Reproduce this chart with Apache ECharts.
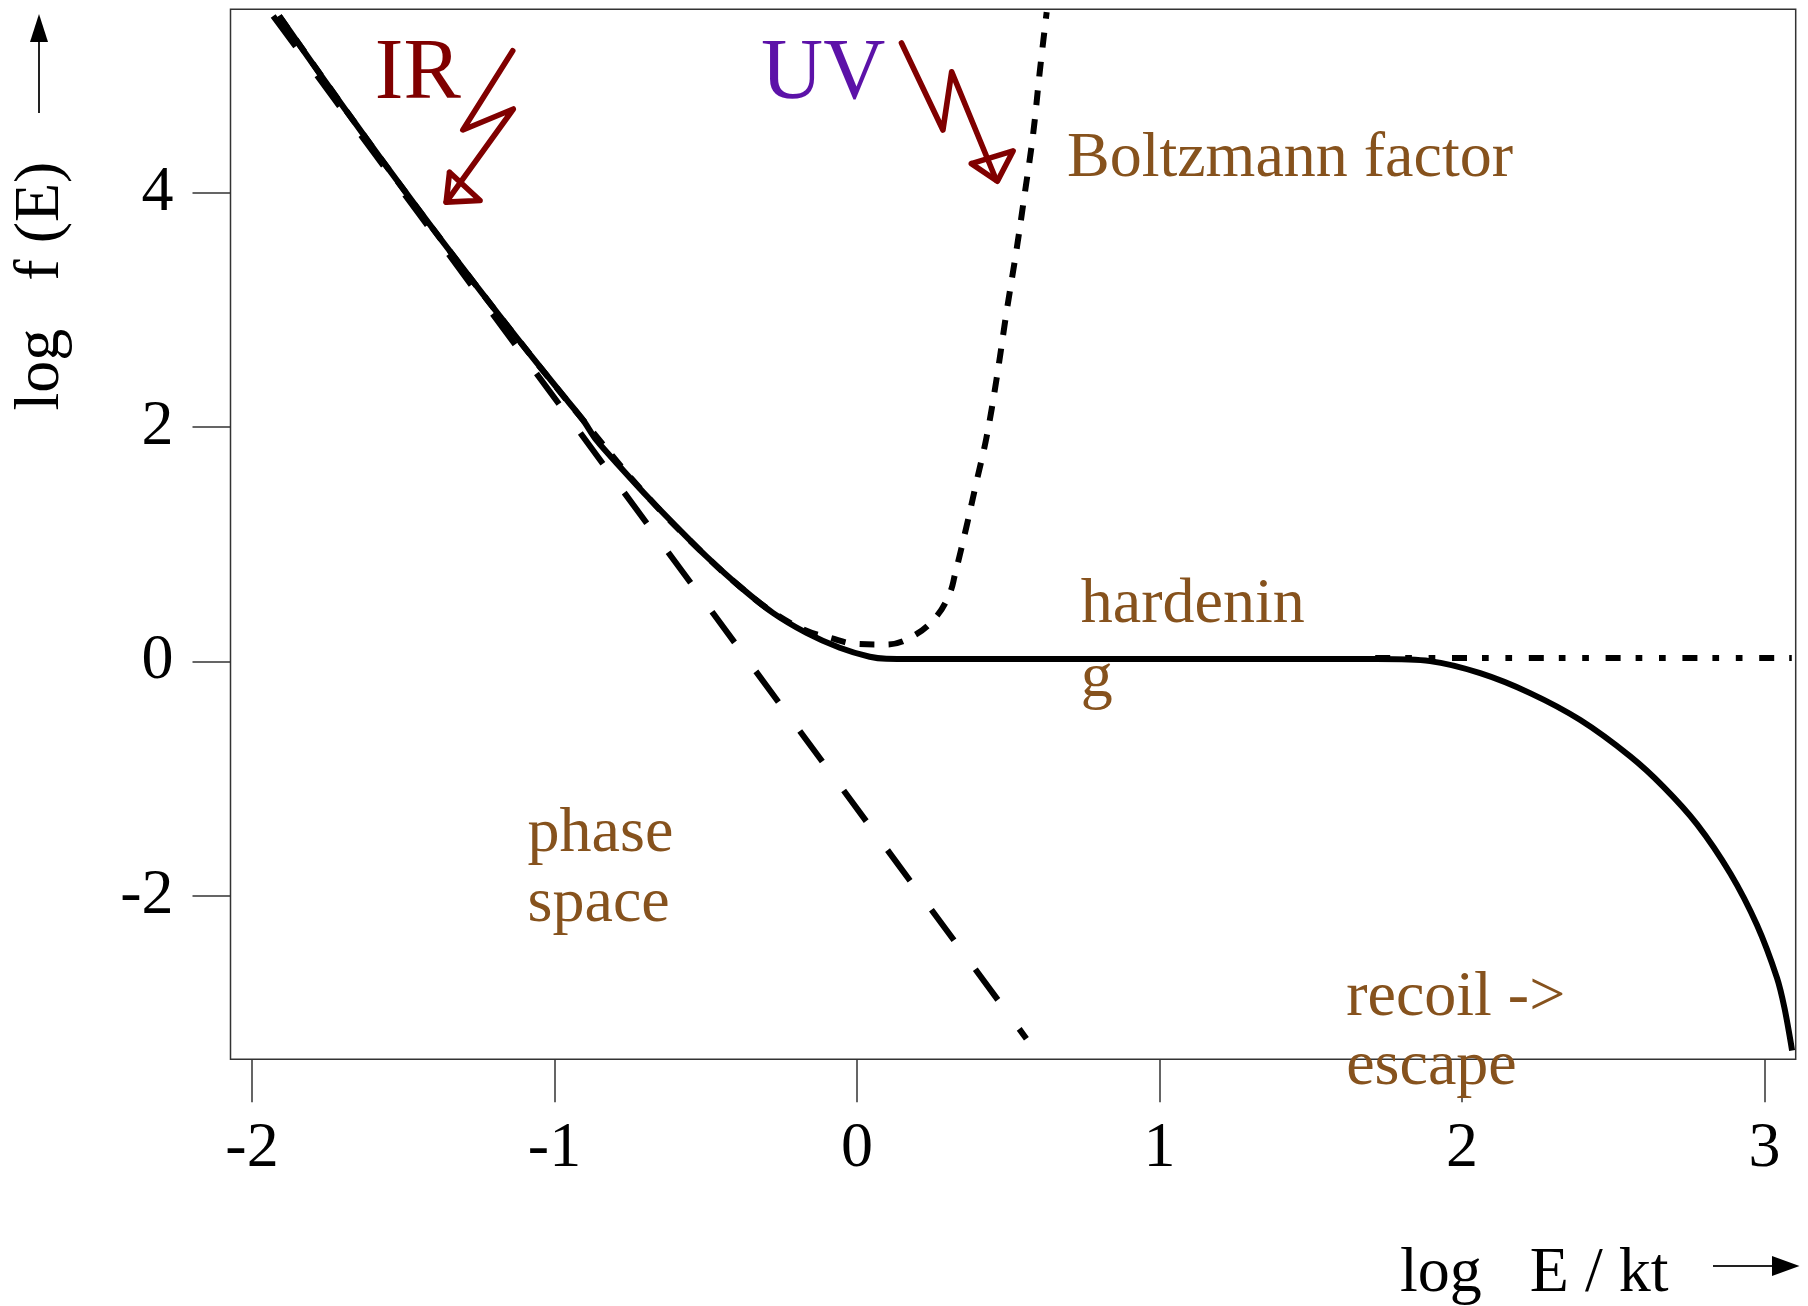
<!DOCTYPE html>
<html><head><meta charset="utf-8">
<script src="https://cdn.jsdelivr.net/npm/echarts@6/dist/echarts.min.js"></script>
<style>html,body{margin:0;padding:0;background:#fff}#c{width:1808px;height:1306px}</style>
</head><body><div id="c"></div>
<script>
// ---------- DATA ----------
const xTicks = [-2, -1, 0, 1, 2, 3];
const xTickLabels = ['-2', '-1', '0', '1', '2', '3'];
const yTicks = [-2, 0, 2, 4];
const yTickLabels = ['-2', '0', '2', '4'];

// total f(E): solid curve
const totalX = [-1.910, -1.844, -1.766, -1.694, -1.618, -1.535, -1.458, -1.370, -1.303, -1.226, -1.138, -1.061, -0.973, -0.906,
  -0.862, -0.774, -0.683, -0.597, -0.498, -0.388, -0.278, -0.167, -0.057, 0.042, 0.097,
  0.30, 0.60, 0.90, 1.20, 1.50, 1.718,
  1.894, 2.060, 2.225, 2.391, 2.556, 2.666, 2.777, 2.887, 2.975, 3.041, 3.066, 3.091];
const totalY = [5.511, 5.267, 4.981, 4.721, 4.449, 4.156, 3.888, 3.585, 3.358, 3.099, 2.808, 2.557, 2.275, 2.062,
  1.891, 1.635, 1.380, 1.152, 0.897, 0.641, 0.415, 0.244, 0.117, 0.040, 0.023,
  0.02, 0.02, 0.02, 0.02, 0.02, 0.02,
  0.003, -0.100, -0.270, -0.500, -0.810, -1.070, -1.390, -1.810, -2.250, -2.700, -2.960, -3.320];

// Boltzmann factor: dotted curve
const boltzX = [-1.910, -1.618, -1.370, -1.138, -0.906, -0.683, -0.498, -0.388, -0.278, -0.167, -0.090, -0.002, 0.097,
  0.185, 0.263, 0.307, 0.323, 0.362, 0.395, 0.428, 0.461, 0.494, 0.527, 0.555, 0.582, 0.604, 0.627];
const boltzY = [5.511, 4.449, 3.585, 2.808, 2.062, 1.380, 0.897, 0.641, 0.420, 0.262, 0.202, 0.150, 0.145,
  0.216, 0.386, 0.585, 0.733, 1.152, 1.533, 1.912, 2.406, 2.977, 3.509, 4.003, 4.498, 5.031, 5.543];

// phase space: dashed straight line
const phaseX = [-1.93, 0.56];
const phaseY = [5.51, -3.22];

// without recoil: dot-dash horizontal continuation
const flatX = [1.713, 3.09];
const flatY = [0.03, 0.03];

// ---------- annotation anchors (data units) ----------
const irBolt = [[-1.138, 5.213], [-1.303, 4.537], [-1.136, 4.716], [-1.358, 3.921]];
const irHead = [[-1.347, 4.176], [-1.358, 3.921], [-1.246, 3.935], [-1.347, 4.176]];
const uvBolt = [[0.147, 5.279], [0.284, 4.537], [0.313, 5.034], [0.461, 4.106]];
const uvHead = [[0.378, 4.250], [0.464, 4.099], [0.516, 4.358], [0.378, 4.250]];

const BROWN = '#86521d';
const labels = [
  {text: 'IR', x: -1.594, y: 4.796, color: '#800000', size: 86},
  {text: 'UV', x: -0.317, y: 4.793, color: '#5c12a8', size: 86},
  {text: 'Boltzmann factor', x: 0.694, y: 4.134, color: BROWN, size: 64},
  {text: 'hardenin', x: 0.740, y: 0.324, color: BROWN, size: 64},
  {text: 'g', x: 0.740, y: -0.307, color: BROWN, size: 64},
  {text: 'phase', x: -1.089, y: -1.627, color: BROWN, size: 64},
  {text: 'space', x: -1.089, y: -2.223, color: BROWN, size: 64},
  {text: 'recoil ->', x: 1.617, y: -3.026, color: BROWN, size: 64},
  {text: 'escape', x: 1.617, y: -3.620, color: BROWN, size: 64}
];

// ---------- chart ----------
const zip = (a, b) => a.map((v, i) => [v, b[i]]);
const FONT = '"Liberation Serif", "Times New Roman", serif';
const chart = echarts.init(document.getElementById('c'), null, {renderer: 'canvas'});

const blackLine = (name, data, type, width, smooth) => ({
  name, type: 'line', data, showSymbol: false, symbol: 'none', smooth: smooth,
  lineStyle: {color: '#000', width: width, type: type, cap: 'butt', join: 'round'},
  animation: false, silent: true, z: 3
});
const redLine = (data) => ({
  type: 'line', data, showSymbol: false, symbol: 'none', smooth: false, clip: false,
  lineStyle: {color: '#800000', width: 5.6, cap: 'round', join: 'round'},
  animation: false, silent: true, z: 4
});

chart.setOption({
  animation: false,
  backgroundColor: '#fff',
  grid: {left: 230.5, top: 9.3, right: 12.3, bottom: 246.7, show: true, borderColor: '#333', borderWidth: 1.5, backgroundColor: 'transparent'},
  xAxis: {
    type: 'value', min: -2.071, max: 3.103,
    axisLine: {show: false, onZero: false},
    splitLine: {show: false},
    axisTick: {show: true, customValues: xTicks, length: 43, lineStyle: {color: '#333', width: 1.5}},
    axisLabel: {show: true, customValues: xTicks, margin: 58, color: '#000', fontFamily: FONT, fontSize: 64, lineHeight: 64,
      formatter: v => xTickLabels[xTicks.indexOf(Math.round(v))]}
  },
  yAxis: {
    type: 'value', min: -3.396, max: 5.567,
    axisLine: {show: false, onZero: false},
    splitLine: {show: false},
    axisTick: {show: true, customValues: yTicks, length: 38, lineStyle: {color: '#333', width: 1.5}},
    axisLabel: {show: true, customValues: yTicks, margin: 57, color: '#000', fontFamily: FONT, fontSize: 64, lineHeight: 64,
      padding: [4, 0, 0, 0],
      formatter: v => yTickLabels[yTicks.indexOf(Math.round(v))]}
  },
  series: [
    blackLine('phase space', zip(phaseX, phaseY), [38, 36], 6, false),
    blackLine('no recoil', zip(flatX, flatY), [15, 15, 6.7, 16.7, 6.7, 16.7], 6, false),
    blackLine('Boltzmann factor', zip(boltzX, boltzY), [15, 14], 6, 0.4),
    blackLine('f(E)', zip(totalX, totalY), 'solid', 6, 0.3),
    redLine(irBolt), redLine(irHead), redLine(uvBolt), redLine(uvHead)
  ]
});

// ---------- text annotations & axis titles ----------
const graphics = [];
labels.forEach(l => {
  const p = chart.convertToPixel({gridIndex: 0}, [l.x, l.y]);
  graphics.push({
    type: 'text', x: p[0], y: p[1] - 0.28 * l.size, z: 10,
    style: {text: l.text, fill: l.color, font: l.size + 'px ' + FONT, align: 'left', verticalAlign: 'middle'}
  });
});
// y axis title (rotated) and arrow
graphics.push({type: 'text', x: 41, y: 286, rotation: Math.PI / 2, z: 10,
  style: {text: 'log   f (E)', fill: '#000', font: '64px ' + FONT, align: 'center', verticalAlign: 'middle'}});
graphics.push({type: 'line', z: 10, shape: {x1: 39, y1: 113, x2: 39, y2: 38}, style: {stroke: '#222', lineWidth: 2}});
graphics.push({type: 'polygon', z: 10, shape: {points: [[39, 14], [30, 42], [48, 42]]}, style: {fill: '#000'}});
// x axis title and arrow
graphics.push({type: 'text', x: 1400, y: 1274, z: 10,
  style: {text: 'log   E / kt', fill: '#000', font: '64px ' + FONT, align: 'left', verticalAlign: 'middle'}});
graphics.push({type: 'line', z: 10, shape: {x1: 1713, y1: 1266, x2: 1776, y2: 1266}, style: {stroke: '#222', lineWidth: 2}});
graphics.push({type: 'polygon', z: 10, shape: {points: [[1799.5, 1266], [1772, 1256], [1772, 1276]]}, style: {fill: '#000'}});

chart.setOption({graphic: graphics});
</script></body></html>
